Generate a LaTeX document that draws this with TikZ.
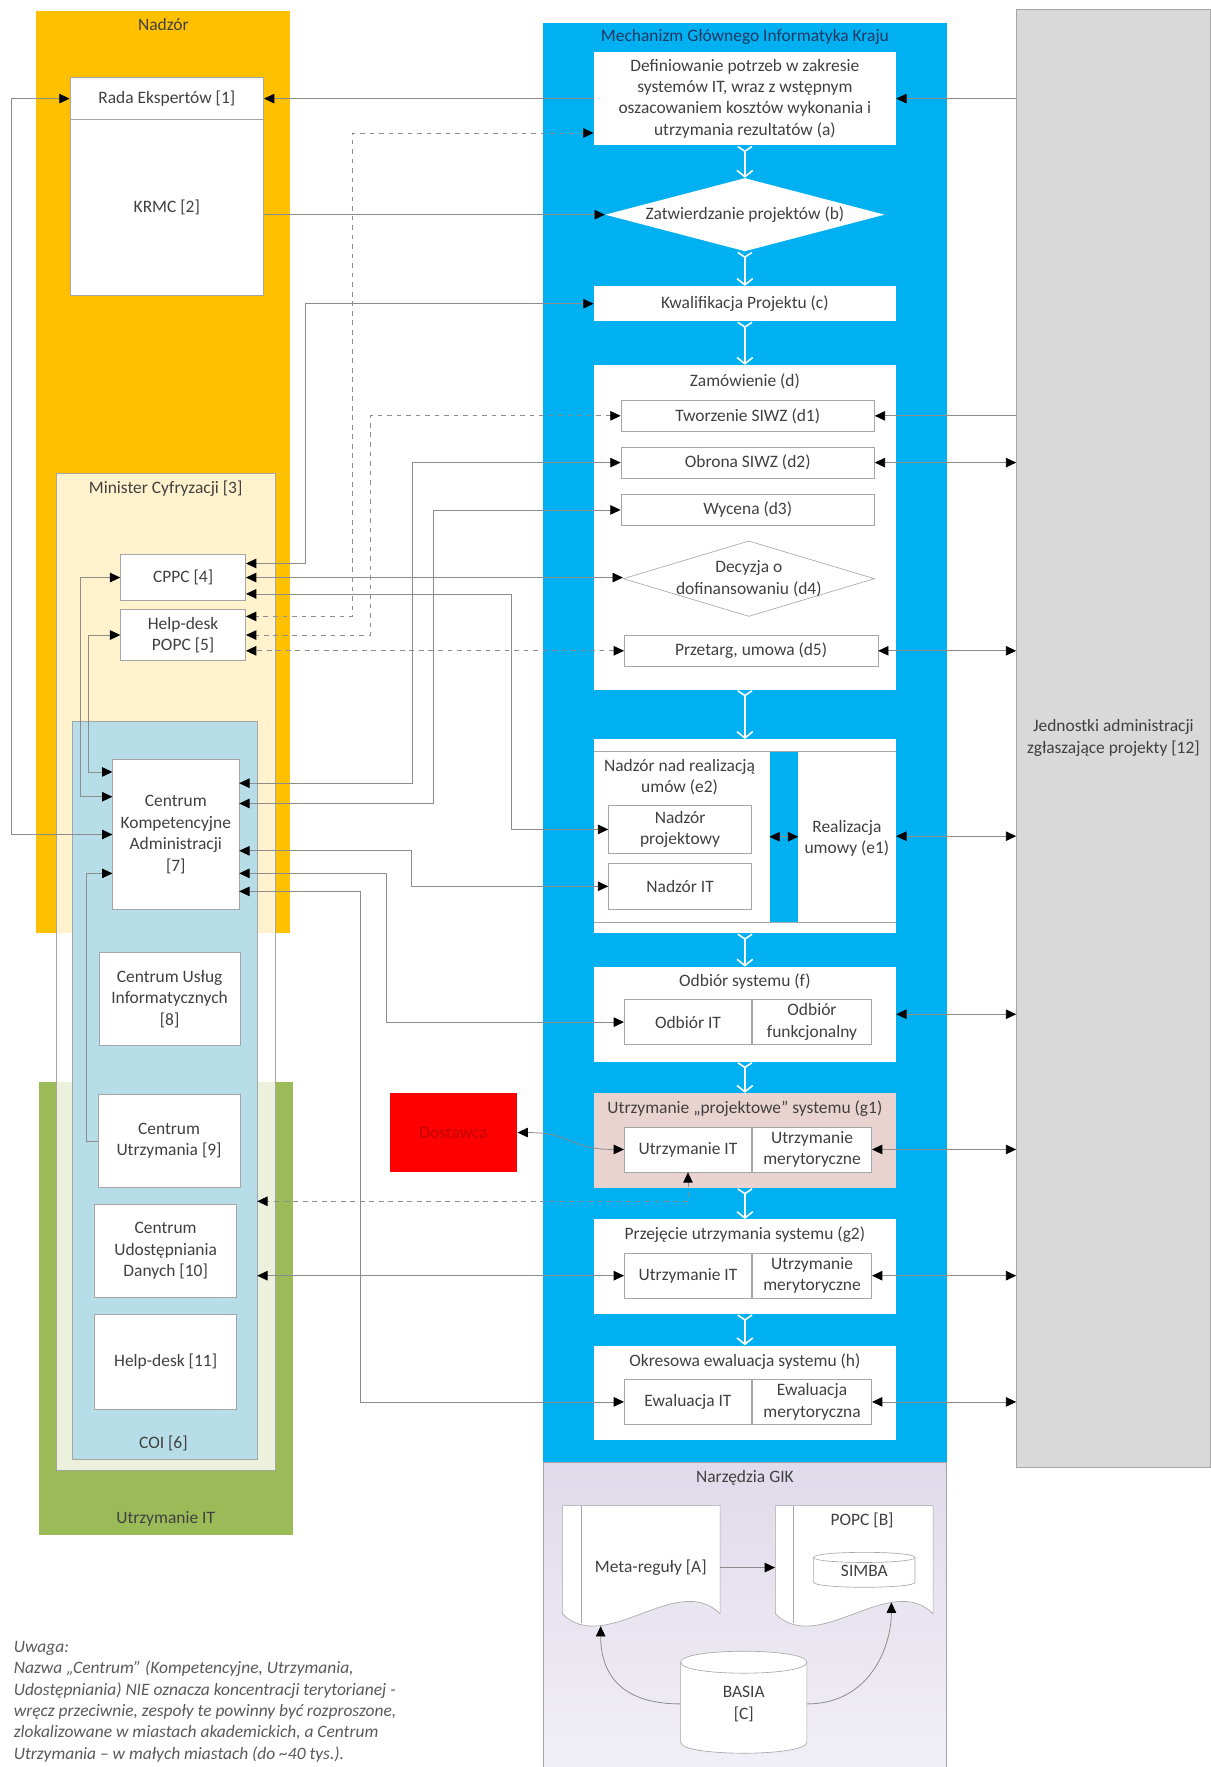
\documentclass[tikz,border=0pt]{standalone}
\usepackage{fontspec}
\setmainfont{Carlito}
\usetikzlibrary{arrows.meta, positioning, shapes.geometric, calc}

\newcommand{\gu}{0.025cm}

\definecolor{nadzorc}{HTML}{FFC000}
\definecolor{utrzc}{HTML}{9BBB59}
\definecolor{coic}{HTML}{B7DEE8}
\definecolor{gikblue}{HTML}{00B0F0}
\definecolor{jednc}{HTML}{D9D9D9}
\definecolor{narztop}{HTML}{E0DAEA}
\definecolor{narzbot}{HTML}{F1EFF6}
\definecolor{linegray}{HTML}{8C8C8C}
\definecolor{boxline}{HTML}{A6A6A6}
\definecolor{txt}{HTML}{404040}
\definecolor{pinkc}{HTML}{E8D3D0}
\definecolor{mechtxt}{HTML}{1F3864}
\definecolor{dostc}{HTML}{FF0000}
\definecolor{dosttxt}{HTML}{C00000}

\tikzset{
  >={Triangle[length=6.5pt, width=6pt, color=black, fill=black]},
  box/.style={rectangle, draw=boxline, fill=white, inner sep=1pt, align=center, text=txt},
  panel/.style={rectangle, fill=white, inner sep=1pt, align=center, text=txt},
  area/.style={rectangle, draw=boxline, inner sep=0pt, align=center, text=txt},
  sz/.style 2 args={minimum width=#1*\gu, minimum height=#2*\gu},
  dia/.style={diamond, draw=boxline, fill=white, inner sep=0pt},
  ttl/.style={inner sep=0pt, align=center, text=txt},
  link/.style={draw=linegray, line width=0.5pt, <->},
  onelink/.style={draw=linegray, line width=0.5pt, ->},
  dlink/.style={link, dashed},
  flow/.style={draw=white, line width=1pt, {Straight Barb[reversed, length=3pt, width=9pt]}-{Straight Barb[length=4pt, width=10pt]}},
}

\begin{document}
\begin{tikzpicture}[x=0.025cm, y=-0.025cm, font=\fontsize{11}{13.5}\selectfont]
  \useasboundingbox (0,0) rectangle (1074,1568);

  % groups on the left
  \node[area, fill=nadzorc, draw=none, sz={225}{818}] (nadzor) at (144.5,419) {};
  \node[area, fill=utrzc, draw=none, sz={225}{402}] (utrzit) at (147.5,1161) {};
  \node[area, fill=white, fill opacity=0.8, sz={194}{885}] (minister) at (147,862.5) {};
  \node[area, fill=coic, sz={164}{655}] (coi) at (146,967.5) {};
  \node[ttl] (nadzort) at (145,22) {Nadzór};
  \node[ttl] (ministert) at (147,434) {Minister Cyfryzacji [3]};
  \node[ttl] (coit) at (145,1281) {COI [6]};
  \node[ttl] (utrzitt) at (147,1348) {Utrzymanie IT};

  % groups on the right
  \node[area, fill=gikblue, draw=none, sz={358}{1278}] (mech) at (661,659) {};
  \node[area, top color=narztop, bottom color=narzbot, sz={358}{270}] (narz) at (661,1433) {};
  \node[area, fill=jednc, sz={172}{1294}] (jedn) at (988,655) {Jednostki administracji\\zgłaszające projekty [12]};
  \node[ttl, text=mechtxt] (mecht) at (661,33) {Mechanizm Głównego Informatyka Kraju};
  \node[ttl] (narzt) at (661,1311) {Narzędzia GIK};

  \node[box, sz={172}{37}] (rada) at (148,87.5) {Rada Ekspertów [1]};
  \node[box, sz={172}{156}] (krmc) at (148,184) {KRMC [2]};
  \node[box, sz={111}{41}] (cppc) at (162.5,512.5) {CPPC [4]};
  \node[box, sz={111}{45}] (hdpopc) at (162.5,563.5) {Help-desk\\POPC [5]};
  \node[box, sz={112}{133}] (cka) at (156,740.5) {Centrum\\Kompetencyjne\\Administracji\\{[7]}};
  \node[box, sz={125}{83}] (cui) at (150.5,886.5) {Centrum Usług\\Informatycznych\\{[8]}};
  \node[box, sz={126}{83}] (cu) at (150,1012.5) {Centrum\\Utrzymania [9]};
  \node[box, sz={126}{82}] (cud) at (147,1110) {Centrum\\Udostępniania\\Danych [10]};
  \node[box, sz={126}{85}] (hd) at (147,1208.5) {Help-desk [11]};

  \node[box, fill=dostc, draw=none, text=dosttxt, sz={113}{70}] (dost) at (402.5,1005) {Dostawca};

  % process steps
  \node[panel, sz={268}{83}] (def) at (661,87.5) {Definiowanie potrzeb w zakresie\\systemów IT, wraz z wstępnym\\oszacowaniem kosztów wykonania i\\utrzymania rezultatów (a)};
  \node[dia, draw=none, sz={248}{65}, label={[ttl]center:Zatwierdzanie projektów (b)}] (zatw) at (661,190.5) {};
  \node[panel, sz={268}{31}] (kwal) at (661,269.5) {Kwalifikacja Projektu (c)};

  \node[panel, sz={268}{288}] (zam) at (661,468) {};
  \node[ttl] (zamt) at (661,338) {Zamówienie (d)};
  \node[box, sz={225}{28}] (zam1) at (663.5,369) {Tworzenie SIWZ (d1)};
  \node[box, sz={225}{27}] (zam2) at (663.5,410.5) {Obrona SIWZ (d2)};
  \node[box, sz={225}{27}] (zam3) at (663.5,452.5) {Wycena (d3)};
  \node[dia, sz={223}{67}, label={[ttl]center:Decyzja o\\dofinansowaniu (d4)}] (zam4) at (664.5,513.5) {};
  \node[box, sz={225}{27}] (zam5) at (666.5,577.5) {Przetarg, umowa (d5)};

  \node[panel, sz={268}{172}] (realiz) at (661,742) {};
  \draw[boxline] ($(realiz.north west)+(0,11)$) -- ($(realiz.north east)+(0,11)$);
  \draw[boxline] ($(realiz.south west)+(0,-10)$) -- ($(realiz.south east)+(0,-10)$);
  \node[area, fill=gikblue, draw=none, sz={25}{151}] (pas) at (695.5,742.5) {};
  \node[ttl] (e2t) at (603,689.5) {Nadzór nad realizacją\\umów (e2)};
  \node[box, sz={127}{42}] (nproj) at (603.5,736) {Nadzór\\projektowy};
  \node[box, sz={127}{41}] (nit) at (603.5,786.5) {Nadzór IT};
  \node[ttl] (e1) at (751.5,744) {Realizacja\\umowy (e1)};
  \draw[link] (pas.west) -- (pas.east);

  \node[panel, sz={268}{84}] (odb) at (661,900) {};
  \node[ttl] (odbt) at (661,871) {Odbiór systemu (f)};
  \node[box, sz={113}{40}] (odbit) at (610.5,907) {Odbiór IT};
  \node[box, sz={106}{40}, right=0pt of odbit] (odbfun) {Odbiór\\funkcjonalny};

  \node[panel, fill=pinkc, sz={268}{84}] (utrz1) at (661,1012) {};
  \node[ttl] (utrz1t) at (661,984) {Utrzymanie „projektowe” systemu (g1)};
  \node[box, sz={113}{40}] (utrz1it) at (610.5,1020) {Utrzymanie IT};
  \node[box, sz={106}{40}, right=0pt of utrz1it] (utrz1mer) {Utrzymanie\\merytoryczne};

  \node[panel, sz={268}{84}] (utrz2) at (661,1124) {};
  \node[ttl] (utrz2t) at (661,1096) {Przejęcie utrzymania systemu (g2)};
  \node[box, sz={113}{40}] (utrz2it) at (610.5,1132) {Utrzymanie IT};
  \node[box, sz={106}{40}, right=0pt of utrz2it] (utrz2mer) {Utrzymanie\\merytoryczne};

  \node[panel, sz={268}{84}] (ewal) at (661,1236) {};
  \node[ttl] (ewalt) at (661,1208) {Okresowa ewaluacja systemu (h)};
  \node[box, sz={113}{40}] (ewalit) at (610.5,1244) {Ewaluacja IT};
  \node[box, sz={106}{40}, right=0pt of ewalit] (ewalmer) {Ewaluacja\\merytoryczna};

  \foreach \s/\t in {def/zatw, zatw/kwal, kwal/zam, zam/realiz, realiz/odb, odb/utrz1, utrz1/utrz2, utrz2/ewal}
    \draw[flow] (\s.south) -- (\t.north);

  % tools
  \draw[boxline, fill=white] (499,1432) -- (499,1336) -- (639,1336) -- (639,1432) .. controls (601,1394) and (537,1470) .. (499,1432) -- cycle;
  \draw[boxline] (516,1336) -- (516,1440);
  \draw[boxline, fill=white] (688,1432) -- (688,1336) -- (828,1336) -- (828,1432) .. controls (790,1394) and (726,1470) .. (688,1432) -- cycle;
  \draw[boxline] (704,1336) -- (704,1440);
  \draw[boxline, fill=white] (722,1382) -- (722,1404) .. controls (722,1410) and (812,1410) .. (812,1404) -- (812,1382) .. controls (812,1376) and (722,1376) .. (722,1382) -- cycle;
  \draw[boxline] (722,1382) .. controls (722,1388) and (812,1388) .. (812,1382);
  \draw[boxline, fill=white] (604,1475) -- (604,1546) .. controls (604,1559) and (716,1559) .. (716,1546) -- (716,1475) .. controls (716,1462) and (604,1462) .. (604,1475) -- cycle;
  \draw[boxline] (604,1475) .. controls (604,1488) and (716,1488) .. (716,1475);

  \node[ttl, sz={123}{110}] (meta) at (577.5,1391) {Meta-reguły [A]};
  \node[ttl, sz={140}{110}] (popcdoc) at (758,1391) {};
  \node[ttl] (popc) at (765,1349) {POPC [B]};
  \node[ttl] (simba) at (767,1394) {SIMBA};
  \node[ttl, sz={112}{91}] (basia) at (660,1512) {BASIA\\{[C]}};
  \coordinate (metaend) at (533,1443);
  \coordinate (popcend) at (791,1422);

  \draw[onelink] (meta.east) -- (popcdoc.west);
  \draw[onelink] (basia.west) .. controls +(-55,0) and +(0,40) .. (metaend);
  \draw[onelink] (basia.east) .. controls +(55,0) and +(0,40) .. (popcend);

  % connectors on the left
  \draw[link] (rada.west) -- ++(-52,0) |- (cka.west);
  \draw[onelink] (def.west) -- (rada.east);
  \draw[onelink] (krmc.east |- zatw.west) -- (zatw.west);
  \draw[dlink] ($(def.west)+(0,30.5)$) -- ++(-214,0) |- ($(hdpopc.east)+(0,-16.5)$);
  \draw[link] (kwal.west) -- ++(-256,0) |- ($(cppc.east)+(0,-12.5)$);
  \draw[dlink] (zam1.west) -- ++(-222,0) |- (hdpopc.east);
  \draw[link] (zam2.west) -- ++(-185,0) |- ($(cka.east)+(0,-45.5)$);
  \draw[link] (zam3.west) -- ++(-166,0) |- ($(cka.east)+(0,-27.5)$);
  \draw[link] (cppc.east) -- (cppc.east -| zam4.west);
  \draw[link] ($(cppc.east)+(0,14.5)$) -| ($(nproj.west)+(-86,0)$) -- (nproj.west);
  \draw[dlink] (zam5.west) -- (zam5.west -| hdpopc.east);
  \draw[link] ($(cka.east)+(0,14.5)$) -| ($(nit.west)+(-175,0)$) -- (nit.west);
  \draw[link] ($(cka.east)+(0,34.5)$) -| ($(odbit.west)+(-211,0)$) -- (odbit.west);
  \draw[link] ($(cka.east)+(0,50.5)$) -| ($(ewalit.west)+(-234,0)$) -- (ewalit.west);
  \draw[link] (cppc.west) -- ++(-35,0) |- ($(cka.west)+(0,-33.5)$);
  \draw[link] (hdpopc.west) -- ++(-28,0) |- ($(cka.west)+(0,-55.5)$);
  \draw[onelink] (cu.west) -- ++(-10,0) |- ($(cka.west)+(0,34.5)$);
  \draw[dlink] (utrz1it.south) |- ($(coi.east)+(0,98.5)$);
  \draw[link] (utrz2it.west) -- (utrz2it.west -| coi.east);
  \draw[link] (dost.east) .. controls +(50,0) and +(-50,0) .. (utrz1it.west);

  % connectors on the right
  \draw[onelink] (jedn.west |- def.east) -- (def.east);
  \draw[onelink] (jedn.west |- zam1.east) -- (zam1.east);
  \foreach \nm in {zam2, zam5, realiz, odb, utrz1mer, utrz2mer, ewalmer}
    \draw[link] (\nm.east) -- (jedn.west |- \nm.east);

  \node[ttl, anchor=north west, align=left, text=black!65, font=\fontsize{11}{13.5}\selectfont\itshape] (uwaga) at (12,1456) {Uwaga:\\Nazwa „Centrum” (Kompetencyjne, Utrzymania,\\Udostępniania) NIE oznacza koncentracji terytorianej -\\wręcz przeciwnie, zespoły te powinny być rozproszone,\\zlokalizowane w miastach akademickich, a Centrum\\Utrzymania – w małych miastach (do \textasciitilde 40 tys.).};
\end{tikzpicture}
\end{document}
